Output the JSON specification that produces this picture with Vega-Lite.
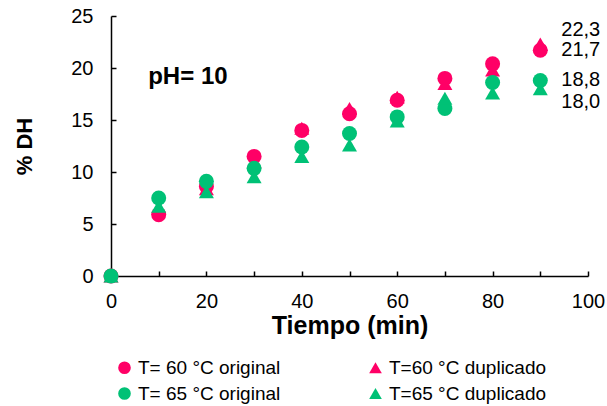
{
  "$schema": "https://vega.github.io/schema/vega-lite/v6.json",
  "width": 477,
  "height": 260,
  "autosize": {"type": "none"},
  "padding": {"left": 111, "top": 16, "right": 19, "bottom": 130},
  "background": "white",
  "config": {
    "view": {"stroke": null},
    "font": "Liberation Sans",
    "axis": {"grid": false, "domainColor": "black", "tickColor": "black", "labelColor": "black", "titleColor": "black", "domainWidth": 1.5, "tickWidth": 1.5, "labelFont": "Liberation Sans", "titleFont": "Liberation Sans", "labelFlush": false}
  },
  "data": {
    "values": [
      {"tiempo": 0, "dh": 0, "serie": "T= 60 °C original"},
      {"tiempo": 10, "dh": 5.9, "serie": "T= 60 °C original"},
      {"tiempo": 20, "dh": 8.6, "serie": "T= 60 °C original"},
      {"tiempo": 30, "dh": 11.5, "serie": "T= 60 °C original"},
      {"tiempo": 40, "dh": 14.0, "serie": "T= 60 °C original"},
      {"tiempo": 50, "dh": 15.6, "serie": "T= 60 °C original"},
      {"tiempo": 60, "dh": 16.9, "serie": "T= 60 °C original"},
      {"tiempo": 70, "dh": 19.0, "serie": "T= 60 °C original"},
      {"tiempo": 80, "dh": 20.4, "serie": "T= 60 °C original"},
      {"tiempo": 90, "dh": 21.7, "serie": "T= 60 °C original", "etiqueta": "21,7"},
      {"tiempo": 0, "dh": 0, "serie": "T=60 °C duplicado"},
      {"tiempo": 10, "dh": 6.5, "serie": "T=60 °C duplicado"},
      {"tiempo": 20, "dh": 8.4, "serie": "T=60 °C duplicado"},
      {"tiempo": 30, "dh": 11.0, "serie": "T=60 °C duplicado"},
      {"tiempo": 40, "dh": 14.2, "serie": "T=60 °C duplicado"},
      {"tiempo": 50, "dh": 16.1, "serie": "T=60 °C duplicado"},
      {"tiempo": 60, "dh": 17.2, "serie": "T=60 °C duplicado"},
      {"tiempo": 70, "dh": 18.5, "serie": "T=60 °C duplicado"},
      {"tiempo": 80, "dh": 19.8, "serie": "T=60 °C duplicado"},
      {"tiempo": 90, "dh": 22.3, "serie": "T=60 °C duplicado", "etiqueta": "22,3"},
      {"tiempo": 0, "dh": 0, "serie": "T= 65 °C original"},
      {"tiempo": 10, "dh": 7.5, "serie": "T= 65 °C original"},
      {"tiempo": 20, "dh": 9.1, "serie": "T= 65 °C original"},
      {"tiempo": 30, "dh": 10.35, "serie": "T= 65 °C original"},
      {"tiempo": 40, "dh": 12.4, "serie": "T= 65 °C original"},
      {"tiempo": 50, "dh": 13.7, "serie": "T= 65 °C original"},
      {"tiempo": 60, "dh": 15.3, "serie": "T= 65 °C original"},
      {"tiempo": 70, "dh": 16.1, "serie": "T= 65 °C original"},
      {"tiempo": 80, "dh": 18.6, "serie": "T= 65 °C original"},
      {"tiempo": 90, "dh": 18.8, "serie": "T= 65 °C original", "etiqueta": "18,8"},
      {"tiempo": 0, "dh": 0, "serie": "T=65 °C duplicado"},
      {"tiempo": 10, "dh": 6.7, "serie": "T=65 °C duplicado"},
      {"tiempo": 20, "dh": 8.1, "serie": "T=65 °C duplicado"},
      {"tiempo": 30, "dh": 9.55, "serie": "T=65 °C duplicado"},
      {"tiempo": 40, "dh": 11.5, "serie": "T=65 °C duplicado"},
      {"tiempo": 50, "dh": 12.6, "serie": "T=65 °C duplicado"},
      {"tiempo": 60, "dh": 14.9, "serie": "T=65 °C duplicado"},
      {"tiempo": 70, "dh": 17.1, "serie": "T=65 °C duplicado"},
      {"tiempo": 80, "dh": 17.6, "serie": "T=65 °C duplicado"},
      {"tiempo": 90, "dh": 18.0, "serie": "T=65 °C duplicado", "etiqueta": "18,0"}
    ]
  },
  "layer": [
    {
      "mark": {"type": "point", "filled": true, "opacity": 1},
      "encoding": {
        "x": {"field": "tiempo", "type": "quantitative", "scale": {"domain": [0, 100], "nice": false},
          "axis": {"title": "Tiempo (min)", "values": [0,10,20,30,40,50,60,70,80,90,100], "labelExpr": "datum.value % 20 == 0 ? datum.label : ''", "tickSize": -5, "labelPadding": 20, "labelFontSize": 20, "titleFontSize": 25, "titleFontWeight": "bold", "titlePadding": 2}},
        "y": {"field": "dh", "type": "quantitative", "scale": {"domain": [0, 25], "nice": false},
          "axis": {"title": "% DH", "values": [0,5,10,15,20,25], "tickSize": -5, "labelPadding": 23, "labelFontSize": 20, "titleFontSize": 22, "titleFontWeight": "bold", "titlePadding": 34}},
        "color": {"field": "serie", "type": "nominal",
          "scale": {"domain": ["T= 60 °C original", "T=60 °C duplicado", "T= 65 °C original", "T=65 °C duplicado"], "range": ["#ff0066", "#ff0066", "#00c176", "#00c176"]},
          "legend": {"title": null, "orient": "none", "direction": "horizontal", "legendX": 4, "legendY": 342, "columns": 2, "columnPadding": 85, "rowPadding": 6, "labelFontSize": 19, "labelFont": "Liberation Sans", "labelColor": "black", "symbolSize": 160, "labelOffset": 4, "padding": 0, "symbolOpacity": 1}},
        "shape": {"field": "serie", "type": "nominal",
          "scale": {"domain": ["T= 60 °C original", "T=60 °C duplicado", "T= 65 °C original", "T=65 °C duplicado"], "range": ["circle", "triangle-up", "circle", "triangle-up"]}},
        "size": {"value": 225}
      }
    },
    {
      "transform": [{"filter": "datum.etiqueta && datum.serie == 'T=60 °C duplicado'"}],
      "mark": {"type": "text", "align": "left", "baseline": "middle", "dx": 21, "dy": -14, "fontSize": 20, "color": "black"},
      "encoding": {"x": {"field": "tiempo", "type": "quantitative"}, "y": {"field": "dh", "type": "quantitative"}, "text": {"field": "etiqueta"}}
    },
    {
      "transform": [{"filter": "datum.etiqueta && (datum.serie == 'T= 60 °C original' || datum.serie == 'T= 65 °C original')"}],
      "mark": {"type": "text", "align": "left", "baseline": "middle", "dx": 21, "dy": 0, "fontSize": 20, "color": "black"},
      "encoding": {"x": {"field": "tiempo", "type": "quantitative"}, "y": {"field": "dh", "type": "quantitative"}, "text": {"field": "etiqueta"}}
    },
    {
      "transform": [{"filter": "datum.etiqueta && datum.serie == 'T=65 °C duplicado'"}],
      "mark": {"type": "text", "align": "left", "baseline": "middle", "dx": 21, "dy": 13, "fontSize": 20, "color": "black"},
      "encoding": {"x": {"field": "tiempo", "type": "quantitative"}, "y": {"field": "dh", "type": "quantitative"}, "text": {"field": "etiqueta"}}
    },
    {
      "data": {"values": [{"tiempo": 7.8, "dh": 19.1, "texto": "pH= 10"}]},
      "mark": {"type": "text", "align": "left", "baseline": "middle", "fontSize": 24, "fontWeight": "bold", "color": "black"},
      "encoding": {"x": {"field": "tiempo", "type": "quantitative"}, "y": {"field": "dh", "type": "quantitative"}, "text": {"field": "texto"}}
    }
  ]
}
